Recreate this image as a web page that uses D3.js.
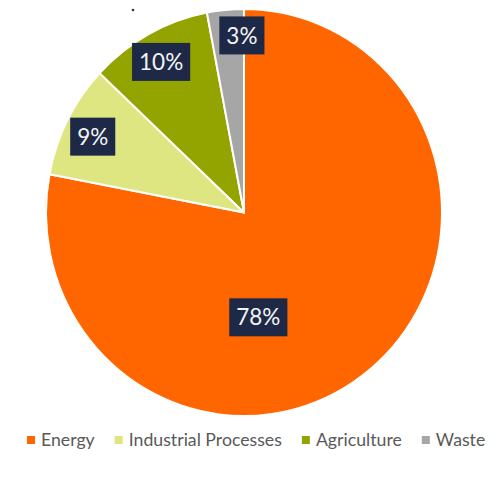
<!DOCTYPE html>
<html>
<head>
<meta charset="utf-8">
<script src="https://cdn.jsdelivr.net/npm/d3@7"></script>
<style>
  html, body { margin: 0; padding: 0; background: #ffffff; }
  svg { display: block; }
</style>
</head>
<body>
<div id="chart"></div>
<script>
// ---- data ----
const categories = ["Energy", "Industrial Processes", "Agriculture", "Waste"];
const shares = [78, 9, 10, 3];
const labels = ["78%", "9%", "10%", "3%"];
const colors = ["#FF6600", "#DEE682", "#93A300", "#A6A6A6"];

// ---- layout ----
const W = 498, H = 478;
const cx = 244, cy = 212.5, R = 198, yStretch = 1.028;
// label placement (polar: angle in degrees clockwise from top, radius fraction)
const labelPlacement = [
  { a: 172, r: 0.52 },
  { a: 296, r: 0.85 },
  { a: 330.5, r: 0.85 },
  { a: 359.3, r: 0.87 }
];

const svg = d3.select("#chart").append("svg")
  .attr("width", W).attr("height", H);

const data = categories.map((c, i) => ({ cat: c, value: shares[i], label: labels[i], color: colors[i] }));

const pie = d3.pie().value(d => d.value).sort(null);
const arc = d3.arc().innerRadius(0).outerRadius(R);
const arcs = pie(data);

const g = svg.append("g")
  .attr("transform", `translate(${cx},${cy}) scale(1,${yStretch})`);

g.selectAll("path").data(arcs).join("path")
  .attr("d", arc)
  .attr("fill", d => d.data.color)
  .attr("stroke", "#ffffff")
  .attr("stroke-width", 2)
  .attr("stroke-linejoin", "round");

// data labels
const lg = svg.append("g").attr("transform", `translate(${cx},${cy})`);
const labelSel = lg.selectAll("g.lab").data(arcs).join("g").attr("class", "lab")
  .attr("transform", (d, i) => {
    const p = labelPlacement[i];
    const ang = p.a * Math.PI / 180;
    const rr = p.r * R;
    return `translate(${rr * Math.sin(ang)},${-rr * Math.cos(ang) * yStretch})`;
  });

labelSel.append("text")
  .attr("text-anchor", "middle")
  .attr("dy", "0.36em")
  .attr("font-family", "Lato, 'Open Sans', sans-serif")
  .attr("font-size", 22.5)
  .attr("fill", "#F4F4F4")
  .text(d => d.data.label);

labelSel.each(function() {
  const t = d3.select(this).select("text");
  const w = t.node().getComputedTextLength();
  const bw = Math.max(w + 14, 43);
  d3.select(this).insert("rect", "text")
    .attr("x", -bw / 2).attr("y", -19)
    .attr("width", bw).attr("height", 38)
    .attr("fill", "#1E2947");
});

// stray dot from the source image
svg.append("circle").attr("cx", 133).attr("cy", 10).attr("r", 1.3).attr("fill", "#333");

// ---- legend ----
const legend = svg.append("g").attr("transform", "translate(0,440)");
const fontSize = 17.7;
const items = legend.selectAll("g").data(data).join("g");
items.append("rect")
  .attr("x", 0).attr("y", -4).attr("width", 8).attr("height", 8)
  .attr("fill", d => d.color);
items.append("text")
  .attr("x", 14).attr("dy", "0.35em")
  .attr("font-family", "Lato, 'Open Sans', sans-serif")
  .attr("font-size", fontSize)
  .attr("fill", "#595959")
  .text(d => d.cat);

// flow layout
const gap = 20;
const widths = [];
items.each(function() {
  widths.push(14 + d3.select(this).select("text").node().getComputedTextLength());
});
let x = 27;
items.attr("transform", (d, i) => {
  const t = `translate(${x},0)`;
  x += widths[i] + gap;
  return t;
});
</script>
</body>
</html>
